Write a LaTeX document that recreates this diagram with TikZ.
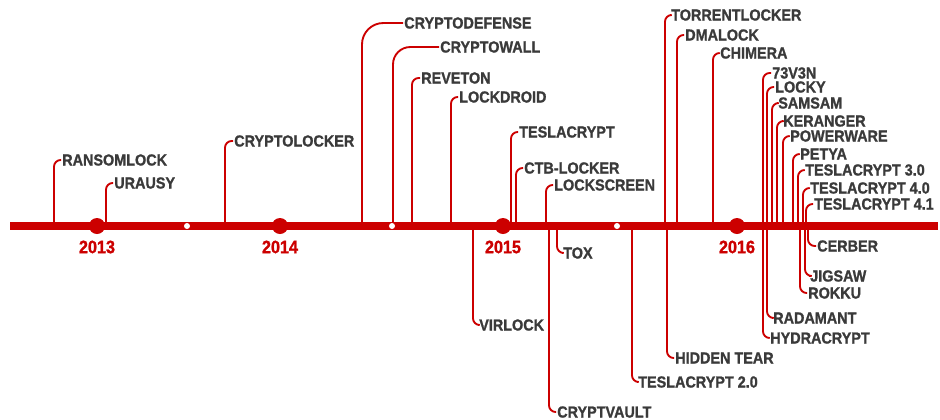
\documentclass[tikz,border=0pt]{standalone}
\usepackage{fontspec}
\setmainfont{Liberation Sans}[FakeStretch=0.9, BoldFeatures={FakeBold=1.2}]
\usepackage{tikz}
\usepackage{xcolor}

\definecolor{tlred}{RGB}{204,0,0}
\definecolor{lblgray}{RGB}{58,58,58}

\tikzset{
  lbl/.style={anchor=west, inner sep=0.75pt, font=\bfseries\fontsize{12}{12}\selectfont, text=lblgray},
  yearlbl/.style={inner sep=0.75pt, font=\bfseries\fontsize{13.5}{13.5}\selectfont, text=tlred},
  conn/.style={draw=tlred, line width=1.4pt, rounded corners=5pt},
  yeardot/.style={circle, fill=tlred, inner sep=0pt, minimum size=12pt},
  halfdot/.style={circle, fill=white, inner sep=0pt, minimum size=4.5pt}
}

\begin{document}
\begin{tikzpicture}[x=0.75pt,y=0.75pt,yscale=-1,xscale=1]
\useasboundingbox (0,0) rectangle (940,419);

% Timeline ends
\coordinate (tl-start) at (10,226);
\coordinate (tl-end) at (938,226);

% Text Nodes above the line
\node[lbl] (ransomlock) at (61,160) {RANSOMLOCK};
\node[lbl] (urausy) at (113,183) {URAUSY};
\node[lbl] (cryptolocker) at (233,141) {CRYPTOLOCKER};
\node[lbl] (cryptodefense) at (403,23) {CRYPTODEFENSE};
\node[lbl] (cryptowall) at (439,47) {CRYPTOWALL};
\node[lbl] (reveton) at (420,78) {REVETON};
\node[lbl] (lockdroid) at (458,97) {LOCKDROID};
\node[lbl] (teslacrypt) at (518,132) {TESLACRYPT};
\node[lbl] (ctblocker) at (523,168) {CTB-LOCKER};
\node[lbl] (lockscreen) at (553,185) {LOCKSCREEN};
\node[lbl] (torrentlocker) at (670,15) {TORRENTLOCKER};
\node[lbl] (dmalock) at (684,35) {DMALOCK};
\node[lbl] (chimera) at (719,53) {CHIMERA};
\node[lbl] (sevthreevthreen) at (771,73) {73V3N};
\node[lbl] (locky) at (774,87) {LOCKY};
\node[lbl] (samsam) at (777,103) {SAMSAM};
\node[lbl] (keranger) at (782,121) {KERANGER};
\node[lbl] (powerware) at (789,136) {POWERWARE};
\node[lbl] (petya) at (799,154) {PETYA};
\node[lbl] (teslathree) at (804,170) {TESLACRYPT 3.0};
\node[lbl] (teslafour) at (809,188) {TESLACRYPT 4.0};
\node[lbl] (teslafourone) at (813,204) {TESLACRYPT 4.1};

% Text Nodes below the line
\node[lbl] (virlock) at (478,325) {VIRLOCK};
\node[lbl] (tox) at (562,253) {TOX};
\node[lbl] (cryptvault) at (556,412) {CRYPTVAULT};
\node[lbl] (teslatwo) at (637,382) {TESLACRYPT 2.0};
\node[lbl] (hiddentear) at (674,358) {HIDDEN TEAR};
\node[lbl] (hydracrypt) at (769,338) {HYDRACRYPT};
\node[lbl] (radamant) at (772,318) {RADAMANT};
\node[lbl] (rokku) at (807,293) {ROKKU};
\node[lbl] (jigsaw) at (809,276) {JIGSAW};
\node[lbl] (cerber) at (816,246) {CERBER};

% Feet of the connectors on the line
\coordinate (f-ransomlock) at (54,226);
\coordinate (f-urausy) at (106,226);
\coordinate (f-cryptolocker) at (225,226);
\coordinate (f-cryptodefense) at (362,226);
\coordinate (f-cryptowall) at (393,226);
\coordinate (f-reveton) at (412,226);
\coordinate (f-lockdroid) at (451,226);
\coordinate (f-teslacrypt) at (511,226);
\coordinate (f-ctblocker) at (516,226);
\coordinate (f-lockscreen) at (546,226);
\coordinate (f-torrentlocker) at (665,226);
\coordinate (f-dmalock) at (677,226);
\coordinate (f-chimera) at (713,226);
\coordinate (f-sevthreevthreen) at (763,226);
\coordinate (f-locky) at (767,226);
\coordinate (f-samsam) at (772,226);
\coordinate (f-keranger) at (777,226);
\coordinate (f-powerware) at (783,226);
\coordinate (f-petya) at (793,226);
\coordinate (f-teslathree) at (798,226);
\coordinate (f-teslafour) at (803,226);
\coordinate (f-teslafourone) at (806,226);
\coordinate (f-virlock) at (473,226);
\coordinate (f-tox) at (557,226);
\coordinate (f-cryptvault) at (549,226);
\coordinate (f-teslatwo) at (632,226);
\coordinate (f-hiddentear) at (667,226);
\coordinate (f-hydracrypt) at (763,226);
\coordinate (f-radamant) at (767,226);
\coordinate (f-rokku) at (800,226);
\coordinate (f-jigsaw) at (805,226);
\coordinate (f-cerber) at (808,226);

% Connectors
\draw[conn] (f-ransomlock) |- (ransomlock.west);
\draw[conn] (f-urausy) |- (urausy.west);
\draw[conn] (f-cryptolocker) |- (cryptolocker.west);
\draw[conn, rounded corners=16pt] (f-cryptodefense) |- (cryptodefense.west);
\draw[conn, rounded corners=13pt] (f-cryptowall) |- (cryptowall.west);
\draw[conn] (f-reveton) |- (reveton.west);
\draw[conn] (f-lockdroid) |- (lockdroid.west);
\draw[conn] (f-teslacrypt) |- (teslacrypt.west);
\draw[conn] (f-ctblocker) |- (ctblocker.west);
\draw[conn] (f-lockscreen) |- (lockscreen.west);
\draw[conn] (f-torrentlocker) |- (torrentlocker.west);
\draw[conn] (f-dmalock) |- (dmalock.west);
\draw[conn] (f-chimera) |- (chimera.west);
\draw[conn] (f-sevthreevthreen) |- (sevthreevthreen.west);
\draw[conn] (f-locky) |- (locky.west);
\draw[conn] (f-samsam) |- (samsam.west);
\draw[conn] (f-keranger) |- (keranger.west);
\draw[conn] (f-powerware) |- (powerware.west);
\draw[conn] (f-petya) |- (petya.west);
\draw[conn] (f-teslathree) |- (teslathree.west);
\draw[conn] (f-teslafour) |- (teslafour.west);
\draw[conn] (f-teslafourone) |- (teslafourone.west);
\draw[conn] (f-virlock) |- (virlock.west);
\draw[conn] (f-tox) |- (tox.west);
\draw[conn] (f-cryptvault) |- (cryptvault.west);
\draw[conn] (f-teslatwo) |- (teslatwo.west);
\draw[conn] (f-hiddentear) |- (hiddentear.west);
\draw[conn] (f-hydracrypt) |- (hydracrypt.west);
\draw[conn] (f-radamant) |- (radamant.west);
\draw[conn] (f-rokku) |- (rokku.west);
\draw[conn] (f-jigsaw) |- (jigsaw.west);
\draw[conn] (f-cerber) |- (cerber.west);

% Timeline
\draw[tlred, line width=5.5pt] (tl-start) -- (tl-end);

% Year dots and labels
\node[yeardot] (d2013) at (97,226) {};
\node[yeardot] (d2014) at (280,226) {};
\node[yeardot] (d2015) at (503,226) {};
\node[yeardot] (d2016) at (737,226) {};
\node[yearlbl] (y2013) at (97,247) {2013};
\node[yearlbl] (y2014) at (280,247) {2014};
\node[yearlbl] (y2015) at (503,247) {2015};
\node[yearlbl] (y2016) at (737,247) {2016};

% Half year marks
\node[halfdot] (h2013) at (187,226) {};
\node[halfdot] (h2014) at (392,226) {};
\node[halfdot] (h2015) at (617,226) {};

\end{tikzpicture}
\end{document}
